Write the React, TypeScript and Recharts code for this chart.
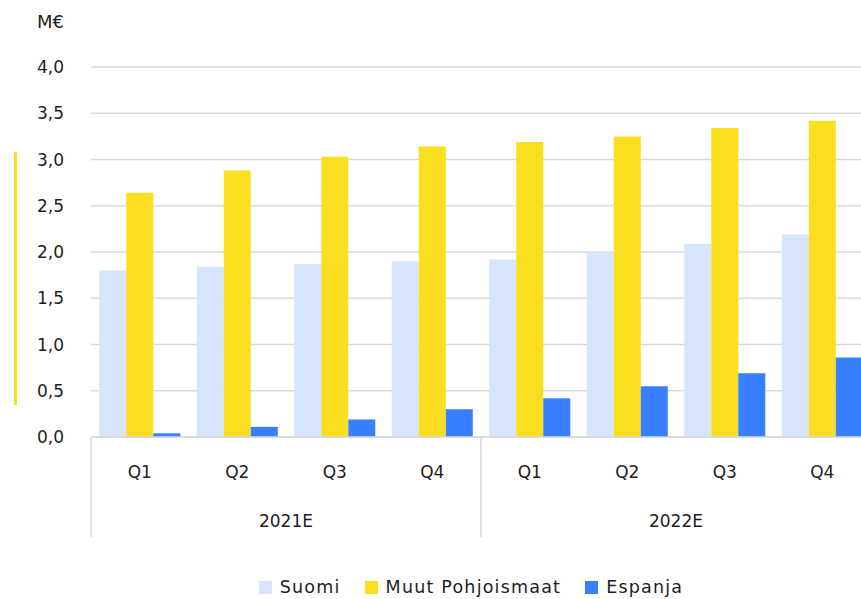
import { BarChart, Bar, XAxis, YAxis, CartesianGrid, Legend } from 'recharts'

// Quarterly revenue estimate by market, M€
const quarters = ['Q1', 'Q2', 'Q3', 'Q4', 'Q1', 'Q2', 'Q3', 'Q4']
const years = ['2021E', '2021E', '2021E', '2021E', '2022E', '2022E', '2022E', '2022E']
const suomi = [1.8, 1.84, 1.87, 1.9, 1.92, 2.0, 2.09, 2.19]
const muut = [2.64, 2.88, 3.03, 3.14, 3.19, 3.25, 3.34, 3.42]
const espanja = [0.04, 0.11, 0.19, 0.3, 0.42, 0.55, 0.69, 0.86]
const yTicks = [0, 0.5, 1, 1.5, 2, 2.5, 3, 3.5, 4]

const series = [
  { key: 'suomi', name: 'Suomi', color: '#D6E4FC' },
  { key: 'muut', name: 'Muut Pohjoismaat', color: '#F9DF1F' },
  { key: 'espanja', name: 'Espanja', color: '#3880FF' },
]

const data = quarters.map((q, i) => ({
  id: `${years[i]} ${q}`,
  q,
  year: years[i],
  suomi: suomi[i],
  muut: muut[i],
  espanja: espanja[i],
}))

const FONT = '"DejaVu Sans", "Open Sans", sans-serif'
const TEXT = '#1e1e1e'
const GRID = '#d9d9d9'

function YearTick(props: any) {
  const { x, y, payload, index, visibleTicksCount } = props
  const half = payload?.offset ?? 195
  return (
    <g>
      <line x1={x - half} x2={x - half} y1={y - 48} y2={y + 52} stroke={GRID} strokeWidth={1.5} />
      {index === visibleTicksCount - 1 && (
        <line x1={x + half} x2={x + half} y1={y - 48} y2={y + 52} stroke={GRID} strokeWidth={1.5} />
      )}
      <text x={x} y={y + 42} textAnchor="middle" fill={TEXT} fontSize={17} fontFamily={FONT}>
        {payload.value}
      </text>
    </g>
  )
}

function LegendContent() {
  return (
    <div
      style={{
        height: 62,
        boxSizing: 'border-box',
        paddingTop: 40,
        display: 'flex',
        justifyContent: 'center',
        gap: 24,
      }}
    >
      {series.map((s) => (
        <div key={s.key} style={{ display: 'flex', alignItems: 'center', height: 20 }}>
          <span style={{ width: 13, height: 13, background: s.color, marginRight: 8 }} />
          <span
            style={{
              fontSize: 17.5,
              color: TEXT,
              fontFamily: FONT,
              lineHeight: '20px',
              letterSpacing: 1.2,
            }}
          >
            {s.name}
          </span>
        </div>
      ))}
    </div>
  )
}

export default function App() {
  return (
    <div
      style={{
        position: 'absolute',
        left: 0,
        top: 0,
        width: 861,
        height: 599,
        overflow: 'hidden',
        background: '#fff',
        fontFamily: FONT,
      }}
    >
      <div
        style={{
          position: 'absolute',
          left: 37,
          top: 11,
          fontSize: 18,
          lineHeight: '22px',
          color: TEXT,
        }}
      >
        M€
      </div>
      <div
        style={{
          position: 'absolute',
          left: 14,
          top: 152,
          width: 3,
          height: 253,
          background: '#F9DF1F',
        }}
      />
      <BarChart
        width={880}
        height={599}
        data={data}
        margin={{ top: 67, right: 9, left: 0, bottom: 0 }}
        barCategoryGap="8.5%"
        barGap={0}
      >
        <CartesianGrid vertical={false} stroke={GRID} strokeWidth={1.5} />
        <XAxis
          dataKey="id"
          height={48}
          tickLine={false}
          tickSize={0}
          tickMargin={29}
          axisLine={{ stroke: GRID, strokeWidth: 1.5 }}
          tickFormatter={(_v: string, i: number) => quarters[i]}
          tick={{ fill: TEXT, fontSize: 17, fontFamily: FONT }}
          interval={0}
        />
        <XAxis
          xAxisId="year"
          dataKey="year"
          allowDuplicatedCategory={false}
          height={52}
          axisLine={false}
          tickLine={false}
          tickSize={0}
          tickMargin={0}
          tick={<YearTick />}
          interval={0}
        />
        <YAxis
          width={91}
          domain={[0, 4]}
          ticks={yTicks}
          axisLine={false}
          tickLine={false}
          tickSize={0}
          tickMargin={27}
          tick={{ fill: TEXT, fontSize: 17, fontFamily: FONT }}
          tickFormatter={(v: number) => v.toFixed(1).replace('.', ',')}
        />
        <Legend
          verticalAlign="bottom"
          content={<LegendContent />}
          wrapperStyle={{ left: 62, width: 818 }}
        />
        {series.map((s) => (
          <Bar key={s.key} dataKey={s.key} name={s.name} fill={s.color} isAnimationActive={false} />
        ))}
      </BarChart>
    </div>
  )
}
